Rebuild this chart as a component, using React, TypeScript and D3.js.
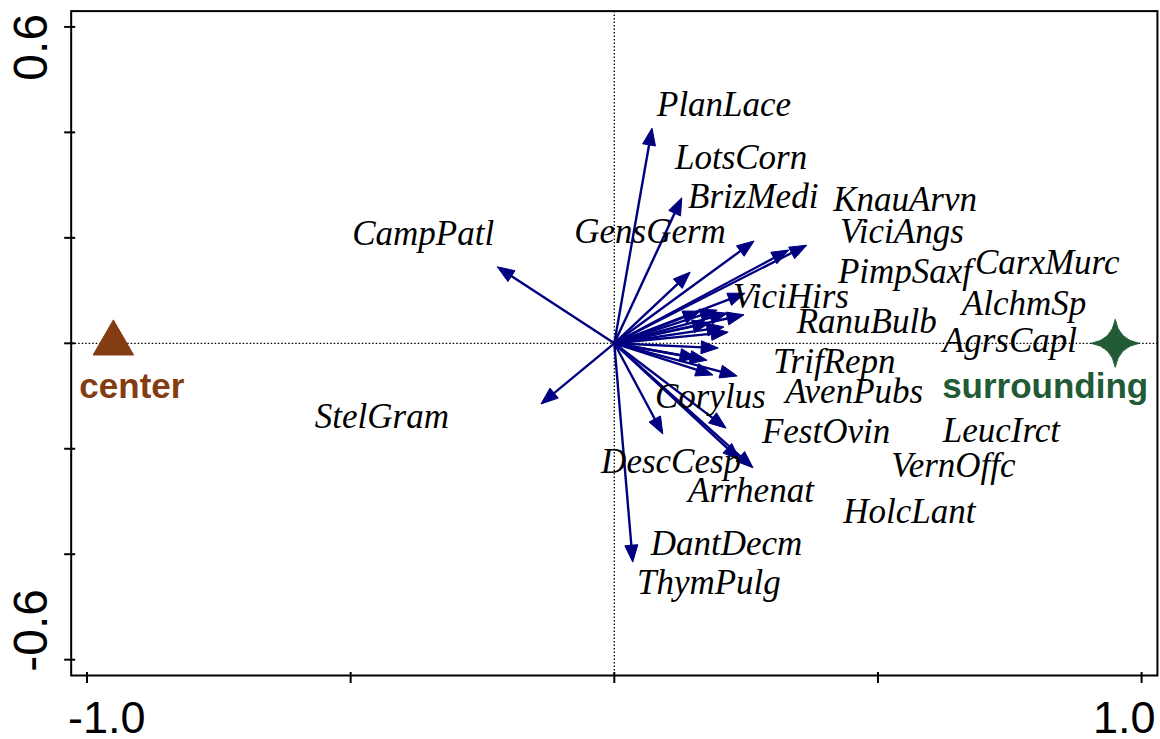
import React from "react";
import * as d3 from "d3";

// ---- data ----
const speciesArrows = [
  { name: "PlanLace", x: 0.0715, y: 0.408 },
  { name: "BrizMedi", x: 0.128, y: 0.276 },
  { name: "KnauArvn", x: 0.265, y: 0.194 },
  { name: "ViciAngs", x: 0.365, y: 0.186 },
  { name: "PimpSaxf", x: 0.331, y: 0.177 },
  { name: "CampPatl", x: -0.222, y: 0.145 },
  { name: "GensGerm", x: 0.144, y: 0.135 },
  { name: "ViciHirs", x: 0.248, y: 0.095 },
  { name: "LotsCorn", x: 0.163, y: 0.061 },
  { name: "CarxMurc", x: 0.195, y: 0.063 },
  { name: "AlchmSp", x: 0.214, y: 0.057 },
  { name: "RanuBulb", x: 0.246, y: 0.054 },
  { name: "AgrsCapl", x: 0.181, y: 0.039 },
  { name: "ThymPulg", x: 0.208, y: 0.031 },
  { name: "Other", x: 0.216, y: 0.021 },
  { name: "TrifRepn", x: 0.197, y: -0.009 },
  { name: "Corylus", x: 0.157, y: -0.028 },
  { name: "AvenPubs", x: 0.176, y: -0.032 },
  { name: "FestOvin", x: 0.233, y: -0.062 },
  { name: "LeucIrct", x: 0.187, y: -0.06 },
  { name: "DescCesp", x: 0.092, y: -0.172 },
  { name: "VernOffc", x: 0.212, y: -0.161 },
  { name: "Arrhenat", x: 0.238, y: -0.221 },
  { name: "HolcLant", x: 0.263, y: -0.236 },
  { name: "DantDecm", x: 0.035, y: -0.415 },
  { name: "StelGram", x: -0.139, y: -0.115 },
];

const speciesLabels = [
  { name: "PlanLace", x: 0.081, y: 0.431 },
  { name: "LotsCorn", x: 0.115, y: 0.331 },
  { name: "BrizMedi", x: 0.14, y: 0.257 },
  { name: "KnauArvn", x: 0.415, y: 0.25 },
  { name: "GensGerm", x: -0.076, y: 0.19 },
  { name: "ViciAngs", x: 0.428, y: 0.19 },
  { name: "CampPatl", x: -0.497, y: 0.186 },
  { name: "PimpSaxf", x: 0.424, y: 0.114 },
  { name: "CarxMurc", x: 0.684, y: 0.131 },
  { name: "ViciHirs", x: 0.225, y: 0.067 },
  { name: "AlchmSp", x: 0.659, y: 0.054 },
  { name: "RanuBulb", x: 0.346, y: 0.02 },
  { name: "AgrsCapl", x: 0.623, y: -0.016 },
  { name: "TrifRepn", x: 0.301, y: -0.056 },
  { name: "AvenPubs", x: 0.324, y: -0.113 },
  { name: "Corylus", x: 0.077, y: -0.123 },
  { name: "StelGram", x: -0.568, y: -0.161 },
  { name: "FestOvin", x: 0.28, y: -0.189 },
  { name: "LeucIrct", x: 0.623, y: -0.187 },
  { name: "DescCesp", x: -0.025, y: -0.246 },
  { name: "VernOffc", x: 0.525, y: -0.254 },
  { name: "Arrhenat", x: 0.14, y: -0.301 },
  { name: "HolcLant", x: 0.434, y: -0.341 },
  { name: "DantDecm", x: 0.069, y: -0.401 },
  { name: "ThymPulg", x: 0.043, y: -0.475 },
];

const samples = [
  { name: "center", x: -0.95, y: 0, color: "#843c12", shape: "triangle" },
  { name: "surrounding", x: 0.95, y: 0, color: "#215a34", shape: "star" },
];

const xTicks = [-1, -0.5, 0, 0.5, 1];
const yTicks = [-0.6, -0.4, -0.2, 0, 0.2, 0.4, 0.6];
const xTickLabels = [
  { value: -1, text: "-1.0" },
  { value: 1, text: "1.0" },
];
const yTickLabels = [
  { value: 0.6, text: "0.6" },
  { value: -0.6, text: "-0.6" },
];

// ---- layout ----
const W = 1160;
const H = 739;
const X0 = 614.3;
const Y0 = 343.3;
const K = 527.3;
const xDomainLim = 1.03;
const yDomainLim = 0.63;

export default function App() {
  const x = d3.scaleLinear().domain([-1, 1]).range([X0 - K, X0 + K]);
  const y = d3.scaleLinear().domain([-1, 1]).range([Y0 + K, Y0 - K]);

  const left = x(-xDomainLim);
  const right = x(xDomainLim);
  const top = y(yDomainLim);
  const bottom = y(-yDomainLim);

  const arrowColor = "#000080";
  const headLen = 17;
  const headHalf = 6.5;

  const starPath =
    "M0,-24 Q3.5,-3.5 24,0 Q3.5,3.5 0,24 Q-3.5,3.5 -24,0 Q-3.5,-3.5 0,-24 Z";
  const triPath = d3.symbol().type(d3.symbolTriangle).size(711)() as string;

  return (
    <svg
      width={W}
      height={H}
      style={{ position: "absolute", left: 0, top: 0, background: "#fff" }}
    >
      <rect x={0} y={0} width={W} height={H} fill="#fff" />
      {/* dotted zero lines */}
      <line
        x1={left}
        x2={right}
        y1={y(0)}
        y2={y(0)}
        stroke="#000"
        strokeWidth={1.3}
        strokeDasharray="1.5 2"
      />
      <line
        x1={x(0)}
        x2={x(0)}
        y1={top}
        y2={bottom}
        stroke="#000"
        strokeWidth={1.3}
        strokeDasharray="1.5 2"
      />

      {/* arrows */}
      {speciesArrows.map((d) => {
        const x1 = x(0);
        const y1 = y(0);
        const x2 = x(d.x);
        const y2 = y(d.y);
        const dx = x2 - x1;
        const dy = y2 - y1;
        const len = Math.sqrt(dx * dx + dy * dy);
        const ux = dx / len;
        const uy = dy / len;
        const bx = x2 - ux * headLen;
        const by = y2 - uy * headLen;
        const px = -uy;
        const py = ux;
        const head = `M${x2},${y2} L${bx + px * headHalf},${by + py * headHalf} L${bx - px * headHalf},${by - py * headHalf} Z`;
        return (
          <g key={d.name}>
            <line
              x1={x1}
              y1={y1}
              x2={bx + ux * 2}
              y2={by + uy * 2}
              stroke={arrowColor}
              strokeWidth={2.4}
            />
            <path d={head} fill={arrowColor} stroke={arrowColor} strokeWidth={1} strokeLinejoin="round" />
          </g>
        );
      })}

      {/* species labels */}
      {speciesLabels.map((d) => (
        <text
          key={d.name}
          x={x(d.x)}
          y={y(d.y)}
          fontFamily="'Liberation Serif', 'Times New Roman', serif"
          fontStyle="italic"
          fontSize={35}
          fill="#000"
        >
          {d.name}
        </text>
      ))}

      {/* samples */}
      {samples.map((s) => (
        <g key={s.name}>
          <path
            d={s.shape === "triangle" ? triPath : starPath}
            transform={`translate(${x(s.x)},${y(s.y)})`}
            fill={s.color}
            stroke={s.color}
            strokeWidth={1}
            strokeLinejoin="round"
          />
          <text
            x={s.shape === "triangle" ? x(s.x) - 34 : x(s.x) + 33}
            y={y(s.y) + 55}
            textAnchor={s.shape === "triangle" ? "start" : "end"}
            fontFamily="'Liberation Sans', Arial, sans-serif"
            fontWeight="bold"
            fontSize={35}
            fill={s.color}
          >
            {s.name}
          </text>
        </g>
      ))}

      {/* frame */}
      <rect
        x={left}
        y={top}
        width={right - left}
        height={bottom - top}
        fill="none"
        stroke="#000"
        strokeWidth={2}
      />

      {/* ticks */}
      {xTicks.map((t) => (
        <line
          key={"xt" + t}
          x1={x(t)}
          x2={x(t)}
          y1={bottom - 3.5}
          y2={bottom + 7.5}
          stroke="#000"
          strokeWidth={2}
        />
      ))}
      {yTicks.map((t) => (
        <line
          key={"yt" + t}
          x1={left - 7}
          x2={left + 4}
          y1={y(t)}
          y2={y(t)}
          stroke="#000"
          strokeWidth={2}
        />
      ))}

      {/* tick labels */}
      {xTickLabels.map((t) => (
        <text
          key={"xl" + t.value}
          x={t.value < 0 ? x(t.value) - 19 : x(t.value) + 14}
          y={733}
          textAnchor={t.value < 0 ? "start" : "end"}
          fontFamily="'Liberation Sans', Arial, sans-serif"
          fontSize={45}
          fill="#000"
        >
          {t.text}
        </text>
      ))}
      {yTickLabels.map((t) => (
        <text
          key={"yl" + t.value}
          transform={`translate(47,${t.value > 0 ? y(t.value) - 13 : y(t.value) + 12}) rotate(-90)`}
          textAnchor={t.value > 0 ? "end" : "start"}
          fontFamily="'Liberation Sans', Arial, sans-serif"
          fontSize={48}
          fill="#000"
        >
          {t.text}
        </text>
      ))}
    </svg>
  );
}
